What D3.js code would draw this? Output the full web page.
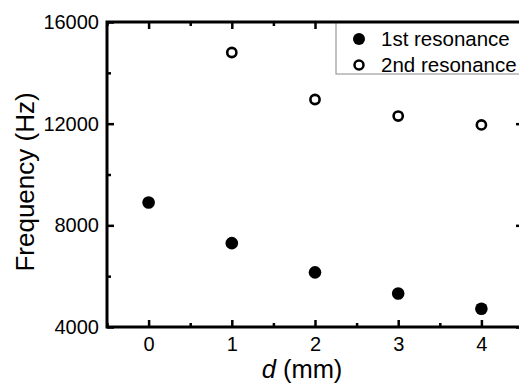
<!DOCTYPE html>
<html>
<head>
<meta charset="utf-8">
<script src="https://cdn.jsdelivr.net/npm/d3@7"></script>
<style>
  body { margin: 0; background: #fff; }
  text { font-family: Arial, "Liberation Sans", sans-serif; fill: #000; }
</style>
</head>
<body>
<div class="chart"></div>
<script>
// values
var dValues = [0, 1, 2, 3, 4];
var firstRes = [8900, 7300, 6150, 5320, 4720];
var dSecond = [1, 2, 3, 4];
var secondRes = [14800, 12950, 12300, 11950];

var xMajor = [0, 1, 2, 3, 4];
var xMinor = [-0.5, 0.5, 1.5, 2.5, 3.5, 4.5];
var yMajor = [4000, 8000, 12000, 16000];
var yMinor = [6000, 10000, 14000];

var legendNames = ["1st resonance", "2nd resonance"];

var svgWidth = 519;
var svgHeight = 383;

// plot box; the right edge sits just past the picture, like the original
var margin = { top: 22, right: -4, bottom: 56, left: 107 };
var width = svgWidth - margin.left - margin.right;
var height = svgHeight - margin.top - margin.bottom;

var svg = d3.select(".chart")
  .append("svg")
  .attr("width", svgWidth)
  .attr("height", svgHeight);

var chartGroup = svg.append("g")
  .attr("transform", `translate(${margin.left}, ${margin.top})`);

var x = d3.scaleLinear().domain([-0.5, 4.5]).range([0, width]);
var y = d3.scaleLinear().domain([4000, 16000]).range([height, 0]);

// helper: draws inward ticks (major + minor) for one side
function tickSide(axisFn, scale, major, minor, showLabels, pad, transform) {
  var g = chartGroup.append("g").attr("transform", transform);
  g.append("g")
    .call(axisFn(scale).tickValues(minor).tickSize(-4).tickSizeOuter(0).tickFormat(""))
    .call(s => s.select(".domain").remove());
  var maj = g.append("g")
    .call(axisFn(scale).tickValues(major).tickSize(-7).tickSizeOuter(0).tickPadding(pad)
      .tickFormat(showLabels ? d3.format("d") : ""))
    .call(s => s.select(".domain").remove());
  g.selectAll("line").attr("stroke", "#000").attr("stroke-width", 2.5);
  maj.selectAll("text").style("font-size", "20px");
  return g;
}

tickSide(d3.axisBottom, x, xMajor, xMinor, true, 9.5, `translate(0, ${height})`);
tickSide(d3.axisTop, x, xMajor, xMinor, false, 0, "translate(0, 0)");
tickSide(d3.axisLeft, y, yMajor, yMinor, true, 8, "translate(0, 0)");
tickSide(d3.axisRight, y, yMajor, yMinor, false, 0, `translate(${width}, 0)`);

// legend box (thin grey frame, hangs off the top spine)
var legend = chartGroup.append("g").attr("transform", "translate(229, 0)");
legend.append("rect")
  .attr("x", 0).attr("y", 0)
  .attr("width", 300).attr("height", 52)
  .attr("fill", "#fff")
  .attr("stroke", "#888")
  .attr("stroke-width", 1);

legendNames.forEach(function(name, i) {
  var row = legend.append("g").attr("transform", `translate(0, ${17 + i * 26})`);
  row.append("circle")
    .attr("cx", 23).attr("cy", 0)
    .attr("r", i === 0 ? 6 : 4.5)
    .attr("fill", i === 0 ? "#000" : "#fff")
    .attr("stroke", "#000")
    .attr("stroke-width", i === 0 ? 0 : 2.5);
  row.append("text")
    .attr("x", 45).attr("y", 0)
    .attr("dy", "0.35em")
    .style("font-size", "20.5px")
    .text(name);
});

// frame
chartGroup.append("rect")
  .attr("width", width).attr("height", height)
  .attr("fill", "none")
  .attr("stroke", "#000")
  .attr("stroke-width", 3);

// 1st resonance: filled dots
chartGroup.selectAll(".first")
  .data(dValues)
  .enter()
  .append("circle")
  .attr("class", "first")
  .attr("cx", d => x(d))
  .attr("cy", (d, i) => y(firstRes[i]))
  .attr("r", 6.3)
  .attr("fill", "#000");

// 2nd resonance: open rings
chartGroup.selectAll(".second")
  .data(dSecond)
  .enter()
  .append("circle")
  .attr("class", "second")
  .attr("cx", d => x(d))
  .attr("cy", (d, i) => y(secondRes[i]))
  .attr("r", 4.6)
  .attr("fill", "#fff")
  .attr("stroke", "#000")
  .attr("stroke-width", 2.6);

// axis titles
chartGroup.append("text")
  .attr("transform", "rotate(-90)")
  .attr("x", 0 - 160)
  .attr("y", 34 - margin.left)
  .attr("text-anchor", "middle")
  .style("font-size", "26px")
  .text("Frequency (Hz)");

// sits right at the bottom edge, like the original
var xt = chartGroup.append("text")
  .attr("x", 302 - margin.left)
  .attr("y", 378 - margin.top)
  .attr("text-anchor", "middle")
  .style("font-size", "25.5px");
xt.append("tspan").style("font-style", "italic").text("d");
xt.append("tspan").text(" (mm)");
</script>
</body>
</html>
